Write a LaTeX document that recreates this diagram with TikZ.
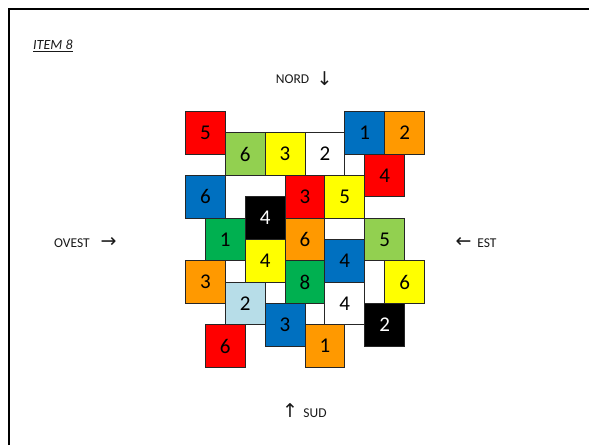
\documentclass[tikz,border=0pt]{standalone}
\usepackage{fontspec}
\setmainfont{Carlito}
\newfontfamily\symfont{DejaVu Sans}
\definecolor{tred}{HTML}{FF0000}
\definecolor{tlgreen}{HTML}{92D050}
\definecolor{tyellow}{HTML}{FFFF00}
\definecolor{tblue}{HTML}{0070C0}
\definecolor{torange}{HTML}{FF9900}
\definecolor{tgreen}{HTML}{00B050}
\definecolor{tlblue}{HTML}{B7DDE8}
\begin{document}
\begin{tikzpicture}[x=1pt,y=-1pt,
  tile/.style={draw=black!85, line width=0.9pt, inner sep=0pt, anchor=north west,
    minimum width=39.84pt, minimum height=42.66pt, font=\fontsize{21}{21}\selectfont},
  lbl/.style={font=\fontsize{13.5}{13.5}\selectfont, text=black!90, inner sep=0pt},
  arr/.style={font=\symfont\fontsize{19}{19}\selectfont, text=black!90, inner sep=0pt}]
\useasboundingbox (0,0) rectangle (589,445);
% frame
\draw[line width=2.4pt] (9,445) -- (9,9) -- (589,9);
% title
\node[lbl, anchor=west, font=\fontsize{14}{14}\selectfont] (title) at (33,46) {\textit{\underline{ITEM 8}}};
% compass labels
\node[lbl] (nord) at (292.5,79) {NORD};
\node[arr] (nord-arrow) at (324.5,79) {↓};
\node[lbl] (ovest) at (72,243) {OVEST};
\node[arr] (ovest-arrow) at (108.5,242) {→};
\node[arr] (est-arrow) at (463.5,242) {←};
\node[lbl] (est) at (487,243) {EST};
\node[arr] (sud-arrow) at (290,411) {↑};
\node[lbl] (sud) at (315,413) {SUD};
% tiles: column step 19.92, row step 21.33
\def\gx{19.92}\def\gy{21.33}
\foreach \c/\r/\col/\txt/\tc/\n in {
  0/0/tred/5/black/a, 2/1/tlgreen/6/black/b, 4/1/tyellow/3/black/c,
  6/1/white/2/black/d, 8/0/tblue/1/black/e, 10/0/torange/2/black/f,
  9/2/tred/4/black/g, 0/3/tblue/6/black/h, 5/3/tred/3/black/i,
  7/3/tyellow/5/black/j, 3/4/black/4/white/k, 1/5/tgreen/1/black/l,
  5/5/torange/6/black/m, 9/5/tlgreen/5/black/n, 3/6/tyellow/4/black/o,
  7/6/tblue/4/black/p, 0/7/torange/3/black/q, 5/7/tgreen/8/black/r,
  10/7/tyellow/6/black/s, 2/8/tlblue/2/black/t, 7/8/white/4/black/u,
  4/9/tblue/3/black/v, 9/9/black/2/white/w, 1/10/tred/6/black/x,
  6/10/torange/1/black/y}
  \node[tile, fill=\col, text=\tc] (tile-\n) at ({185+\gx*\c},{111+\gy*\r}) {\txt};
\end{tikzpicture}
\end{document}
